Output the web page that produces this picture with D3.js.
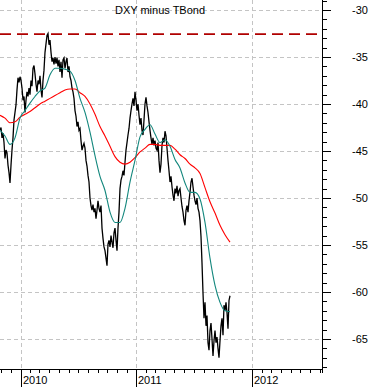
<!DOCTYPE html>
<html>
<head>
<meta charset="utf-8">
<script src="https://cdn.jsdelivr.net/npm/d3@7"></script>
<style>
  body { margin: 0; background: #fff; }
  svg text { font-family: "Liberation Sans", Arial, sans-serif; font-size: 11px; fill: #000; }
</style>
</head>
<body>
<div id="chart"></div>
<script>
// Données
const title = "DXY minus TBond";
const seriesStart = "2009-10-28";
const seriesEnd = "2011-10-23";
const axisStart = "2009-10-28";
const axisEnd = "2012-08-08";
const yTicks = [-30, -35, -40, -45, -50, -55, -60, -65];
const yearTicks = ["2010-01-01", "2011-01-01", "2012-01-01"];
const resistance = -32.56;

// spread (daily data, sampled evenly between seriesStart and seriesEnd)
const spread = [
  -42.8, -42.5, -43.6, -43.1, -44.1, -45.8, -44.9, -45.2, -46.5, -47.3,
  -48.4, -46.5, -44.9, -43.6, -41.7, -40.9, -40.1, -38.5, -37.2, -37.7,
  -37.1, -37.5, -38.3, -39.6, -39.2, -40.9, -39.6, -38.7, -39.2, -38.3,
  -39.0, -37.5, -38.1, -36.2, -35.9, -36.8, -37.9, -38.7, -37.5, -37.9,
  -37.0, -38.5, -39.3, -37.5, -36.4, -34.5, -33.6, -32.7, -32.5, -33.7,
  -33.2, -34.5, -35.5, -35.1, -35.8, -35.0, -35.7, -35.1, -36.0, -35.3,
  -36.6, -35.5, -37.2, -35.3, -35.1, -36.2, -35.5, -35.1, -36.6, -36.0,
  -37.1, -37.5, -38.3, -38.7, -39.4, -40.7, -41.3, -42.4, -41.9, -42.8,
  -42.6, -43.9, -44.9, -44.5, -44.2, -44.7, -46.0, -46.6, -47.6, -48.3,
  -50.0, -50.8, -51.3, -50.7, -51.5, -51.1, -52.2, -51.3, -50.3, -51.1,
  -51.5, -50.8, -53.2, -54.3, -55.2, -55.6, -56.4, -57.2, -54.9, -54.5,
  -55.2, -54.0, -54.7, -55.3, -53.7, -53.2, -54.5, -55.6, -53.2, -51.5,
  -49.0, -48.1, -47.7, -47.1, -47.6, -46.2, -44.9, -44.1, -43.3, -42.6,
  -41.5, -40.7, -40.0, -39.4, -40.2, -38.7, -39.6, -40.7, -40.0, -41.2,
  -42.2, -41.5, -42.8, -43.3, -41.7, -40.0, -39.3, -40.2, -40.9, -41.9,
  -42.8, -43.6, -44.3, -43.6, -44.4, -43.9, -44.7, -44.9, -44.1, -46.0,
  -47.3, -46.4, -44.4, -43.6, -44.1, -42.9, -43.4, -44.7, -46.0, -47.1,
  -48.3, -47.7, -48.8, -49.7, -50.3, -49.0, -49.5, -48.7, -49.8, -49.2,
  -49.0, -50.0, -50.9, -51.5, -52.4, -52.9, -51.3, -50.8, -51.5, -50.3,
  -49.4, -48.3, -47.9, -48.8, -49.7, -50.3, -50.7, -50.0, -51.1, -51.5,
  -52.4, -54.1, -56.9, -60.1, -62.8, -61.1, -63.6, -62.5, -65.4, -66.2,
  -64.1, -63.3, -65.0, -66.8, -65.2, -64.1, -65.4, -64.8, -66.0, -67.0,
  -65.2, -63.6, -62.8, -64.6, -61.4, -62.0, -61.1, -62.2, -63.9, -60.9,
  -60.4
];

// short moving average (sampled evenly, same dates range)
const shortAvg = [
  -42.8, -43.4, -44.3, -43.6, -41.5, -40.7, -39.9, -39.2, -38.6, -38.3,
  -36.9, -36.2, -36.2, -36.3, -36.5, -37.5, -39.4, -40.9, -43.0, -45.5,
  -47.7, -49.2, -51.5, -52.6, -52.6, -51.1, -48.3, -46.0, -43.5, -42.7,
  -42.2, -43.2, -44.1, -43.8, -44.5, -45.9, -46.8, -48.4, -49.4, -49.4,
  -50.1, -52.6, -56.4, -59.3, -61.1, -62.0, -62.1
];

// long moving average
const longAvg = [
  -41.2, -41.5, -42.0, -41.9, -41.4, -41.1, -40.8, -40.4, -40.0, -39.7,
  -39.4, -39.1, -38.8, -38.5, -38.4, -38.4, -38.8, -39.2, -40.0, -41.1,
  -42.4, -43.4, -44.5, -45.6, -46.2, -46.4, -46.2, -45.7, -45.1, -44.7,
  -44.3, -44.3, -44.4, -44.4, -44.4, -44.8, -45.4, -45.8, -46.4, -46.8,
  -47.4, -48.9, -50.4, -51.6, -52.9, -53.9, -54.7
];

// Taille
const width = 372, height = 387;
const plotW = 322, plotH = 369;

const parse = d3.timeParse("%Y-%m-%d");

const svg = d3
  .select("#chart")
  .append("svg")
  .attr("width", width)
  .attr("height", height);

const x = d3.scaleTime().domain([parse(axisStart), parse(axisEnd)]).range([0, plotW]);
const y = d3.scaleLinear().domain([-30, -65]).range([10, 339]);

// dates régulières entre début et fin de série
function datesFor(values) {
  const t = d3.scaleLinear()
    .domain([0, values.length - 1])
    .range([+parse(seriesStart), +parse(seriesEnd)]);
  return values.map(function (v, i) {
    return { date: new Date(t(i)), value: v };
  });
}

// grille
const grid = svg.append("g").attr("stroke", "#c4c4c4").attr("stroke-dasharray", "4,3");
grid.selectAll("line.h")
  .data(yTicks)
  .enter()
  .append("line")
  .attr("x1", 0)
  .attr("x2", plotW)
  .attr("y1", function (d) { return y(d) + 0.5; })
  .attr("y2", function (d) { return y(d) + 0.5; });
grid.selectAll("line.v")
  .data(yearTicks)
  .enter()
  .append("line")
  .attr("x1", function (d) { return Math.round(x(parse(d))) + 0.5; })
  .attr("x2", function (d) { return Math.round(x(parse(d))) + 0.5; })
  .attr("y1", 0)
  .attr("y2", plotH);

// ligne de résistance
svg.append("line")
  .attr("x1", 0)
  .attr("x2", plotW)
  .attr("y1", y(resistance))
  .attr("y2", y(resistance))
  .attr("stroke", "#b00000")
  .attr("stroke-width", 1.8)
  .attr("stroke-dasharray", "11,6");

const line = d3.line()
  .x(function (d) { return x(d.date); })
  .y(function (d) { return y(d.value); });

svg.append("path")
  .datum(datesFor(spread))
  .attr("d", line)
  .attr("fill", "none")
  .attr("stroke", "#000")
  .attr("stroke-width", 1.3);

svg.append("path")
  .datum(datesFor(longAvg))
  .attr("d", line.curve(d3.curveMonotoneX))
  .attr("fill", "none")
  .attr("stroke", "#ff0000")
  .attr("stroke-width", 1.1);

svg.append("path")
  .datum(datesFor(shortAvg))
  .attr("d", line.curve(d3.curveMonotoneX))
  .attr("fill", "none")
  .attr("stroke", "#13877d")
  .attr("stroke-width", 1.1);

// titre
svg.append("text")
  .attr("x", 160)
  .attr("y", 14)
  .attr("text-anchor", "middle")
  .text(title);

// axe Y à droite
const yAxis = svg.append("g").attr("stroke", "#000").attr("shape-rendering", "crispEdges");
yAxis.append("line")
  .attr("x1", plotW + 0.5).attr("x2", plotW + 0.5)
  .attr("y1", 0).attr("y2", plotH + 4);
const minorY = d3.range(-29, -69, -1).filter(function (d) { return y(d) >= 0 && y(d) < plotH; });
yAxis.selectAll("line.tick")
  .data(minorY)
  .enter()
  .append("line")
  .attr("x1", plotW)
  .attr("x2", function (d) { return d % 5 === 0 ? plotW + 9 : plotW + 5; })
  .attr("y1", function (d) { return Math.round(y(d)) + 0.5; })
  .attr("y2", function (d) { return Math.round(y(d)) + 0.5; });
svg.selectAll("text.ylab")
  .data(yTicks)
  .enter()
  .append("text")
  .attr("x", 352)
  .attr("y", function (d) { return y(d) + 4; })
  .text(function (d) { return d; });

// axe X
const xAxis = svg.append("g").attr("stroke", "#000").attr("shape-rendering", "crispEdges");
xAxis.append("line")
  .attr("x1", 0).attr("x2", plotW + 1)
  .attr("y1", plotH + 0.5).attr("y2", plotH + 0.5);
xAxis.selectAll("line.month")
  .data(d3.timeMonth.range(parse(axisStart), parse(axisEnd)))
  .enter()
  .append("line")
  .attr("x1", function (d) { return Math.round(x(d)) + 0.5; })
  .attr("x2", function (d) { return Math.round(x(d)) + 0.5; })
  .attr("y1", plotH)
  .attr("y2", function (d) { return d.getMonth() === 0 ? height : plotH + 4; });
svg.selectAll("text.xlab")
  .data(yearTicks)
  .enter()
  .append("text")
  .attr("x", function (d) { return Math.round(x(parse(d))) + 2; })
  .attr("y", 384)
  .text(function (d) { return d.slice(0, 4); });
</script>
</body>
</html>
